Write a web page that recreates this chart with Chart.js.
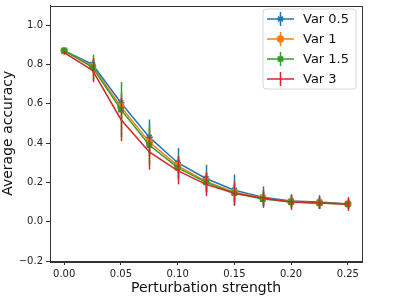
<!DOCTYPE html>
<html>
<head>
<meta charset="utf-8">
<script src="https://cdn.jsdelivr.net/npm/chart.js@4"></script>
<style>
  html, body { margin: 0; padding: 0; background: #fff; }
  canvas { display: block; }
</style>
</head>
<body>
<canvas id="grafico" width="399" height="298"></canvas>
<script>
// Perturbation strengths (x)
const forcas = [0, 0.025, 0.05, 0.075, 0.1, 0.125, 0.15, 0.175, 0.2, 0.225, 0.25];

// Average accuracy per variance, with error bar half-heights
const var05 = [0.87, 0.80, 0.605, 0.43, 0.30, 0.22, 0.16, 0.125, 0.105, 0.10, 0.09];
const err05 = [0.01, 0.03, 0.05, 0.09, 0.075, 0.07, 0.08, 0.055, 0.03, 0.035, 0.025];
const var1 = [0.87, 0.79, 0.585, 0.405, 0.285, 0.205, 0.15, 0.12, 0.10, 0.095, 0.09];
const err1 = [0.01, 0.04, 0.06, 0.07, 0.05, 0.05, 0.04, 0.035, 0.03, 0.03, 0.025];
const var15 = [0.87, 0.785, 0.57, 0.39, 0.275, 0.20, 0.145, 0.115, 0.10, 0.095, 0.09];
const err15 = [0.01, 0.065, 0.14, 0.10, 0.06, 0.05, 0.045, 0.035, 0.03, 0.03, 0.025];
const var3 = [0.86, 0.77, 0.52, 0.355, 0.26, 0.19, 0.145, 0.12, 0.10, 0.095, 0.09];
const err3 = [0.01, 0.06, 0.11, 0.09, 0.07, 0.06, 0.06, 0.04, 0.04, 0.03, 0.035];

const nomes = ['Var 0.5', 'Var 1', 'Var 1.5', 'Var 3'];
const cores = ['#1f77b4', '#ff7f0e', '#2ca02c', '#d62728'];

const ticksX = [0, 0.05, 0.1, 0.15, 0.2, 0.25];
const ticksY = [-0.2, 0, 0.2, 0.4, 0.6, 0.8, 1.0];

const FONTE = "'DejaVu Sans', sans-serif";

function serie(i, valores, erros, estilo, raio) {
    return {
        label: nomes[i],
        data: forcas.map((x, k) => ({ x: x, y: valores[k] })),
        erros: erros,
        borderColor: cores[i],
        backgroundColor: cores[i],
        borderWidth: 1.5,
        pointStyle: estilo,
        pointRadius: raio,
        pointBorderWidth: 1.5,
        tension: 0,
        order: 3 - i
    };
}

// Vertical error bars, drawn right after each dataset
const barrasErro = {
    id: 'barrasErro',
    afterDatasetDraw(chart, args) {
        const ds = chart.data.datasets[args.index];
        const sx = chart.scales.x, sy = chart.scales.y;
        const ctx = chart.ctx;
        ctx.save();
        ctx.strokeStyle = ds.borderColor;
        ctx.lineWidth = 1.5;
        ds.data.forEach((p, k) => {
            const px = Math.round(sx.getPixelForValue(p.x)) + 0.5;
            ctx.beginPath();
            ctx.moveTo(px, sy.getPixelForValue(p.y - ds.erros[k]));
            ctx.lineTo(px, sy.getPixelForValue(p.y + ds.erros[k]));
            ctx.stroke();
        });
        ctx.restore();
    }
};

// Frame on all four sides + matplotlib-like legend
const moldura = {
    id: 'moldura',
    afterDraw(chart) {
        const ctx = chart.ctx;
        const a = chart.chartArea;
        ctx.save();
        ctx.strokeStyle = '#333';
        ctx.lineWidth = 1;
        ctx.strokeRect(Math.round(a.left) + 0.5, Math.round(a.top) + 0.5,
            Math.round(a.right - a.left), Math.round(a.bottom - a.top));

        // legend box
        const lx = 263, ly = 9, lw = 93, lh = 80, r = 3;
        ctx.beginPath();
        ctx.moveTo(lx + r, ly);
        ctx.arcTo(lx + lw, ly, lx + lw, ly + lh, r);
        ctx.arcTo(lx + lw, ly + lh, lx, ly + lh, r);
        ctx.arcTo(lx, ly + lh, lx, ly, r);
        ctx.arcTo(lx, ly, lx + lw, ly, r);
        ctx.closePath();
        ctx.fillStyle = 'rgba(255,255,255,0.8)';
        ctx.fill();
        ctx.strokeStyle = '#d6d6d6';
        ctx.stroke();

        chart.data.datasets.forEach((ds, i) => {
            const cy = 19 + i * 20;
            const x0 = 267, x1 = 294, xm = 280.5;
            ctx.strokeStyle = ds.borderColor;
            ctx.fillStyle = ds.borderColor;
            ctx.lineWidth = 1.5;
            ctx.beginPath();
            ctx.moveTo(x0, cy);
            ctx.lineTo(x1, cy);
            ctx.moveTo(xm, cy - 7);
            ctx.lineTo(xm, cy + 7);
            ctx.stroke();
            if (ds.pointRadius > 0) {
                Chart.helpers.drawPoint(ctx, {
                    pointStyle: ds.pointStyle,
                    radius: ds.pointRadius,
                    borderWidth: ds.pointBorderWidth,
                    rotation: 0
                }, xm, cy);
            }
            ctx.fillStyle = '#111';
            ctx.font = '13px ' + FONTE;
            ctx.textBaseline = 'middle';
            ctx.textAlign = 'left';
            ctx.fillText(ds.label, 303, cy + 1);
        });
        ctx.restore();
    }
};

new Chart(document.getElementById('grafico'), {
    type: 'line',
    data: {
        datasets: [
            serie(0, var05, err05, 'star', 3.5),
            serie(1, var1, err1, 'circle', 3),
            serie(2, var15, err15, 'rect', 3),
            serie(3, var3, err3, 'line', 0)
        ]
    },
    options: {
        responsive: false,
        animation: false,
        devicePixelRatio: 1,
        layout: { padding: { top: -3, right: 37, left: 0, bottom: 0 } },
        plugins: {
            legend: { display: false },
            tooltip: { enabled: false }
        },
        scales: {
            x: {
                type: 'linear',
                min: -0.0125,
                max: 0.2625,
                afterBuildTicks: s => { s.ticks = ticksX.map(v => ({ value: v })); },
                afterFit: s => { s.height = 37; s.paddingLeft = 0; s.paddingRight = 0; },
                grid: { drawOnChartArea: false, drawTicks: true, tickLength: 4, color: '#333' },
                border: { color: '#333' },
                ticks: {
                    color: '#222',
                    padding: 3,
                    maxRotation: 0,
                    font: { family: FONTE, size: 10 },
                    callback: v => v.toFixed(2)
                },
                title: {
                    display: true,
                    text: 'Perturbation strength',
                    color: '#111',
                    padding: { top: 0, bottom: 1 },
                    font: { family: FONTE, size: 14 }
                }
            },
            y: {
                type: 'linear',
                min: -0.2,
                max: 1.1,
                afterBuildTicks: s => { s.ticks = ticksY.map(v => ({ value: v })); },
                afterFit: s => { s.width = 50; s.paddingTop = 0; s.paddingBottom = 0; },
                grid: { drawOnChartArea: false, drawTicks: true, tickLength: 4, color: '#333' },
                border: { color: '#333' },
                ticks: {
                    color: '#222',
                    padding: 3,
                    font: { family: FONTE, size: 10 },
                    callback: v => (v < 0 ? '\u2212' : '') + Math.abs(v).toFixed(1)
                },
                title: {
                    display: true,
                    text: 'Average accuracy',
                    color: '#111',
                    padding: { top: 0, bottom: 0 },
                    font: { family: FONTE, size: 14 }
                }
            }
        }
    },
    plugins: [barrasErro, moldura]
});
</script>
</body>
</html>
